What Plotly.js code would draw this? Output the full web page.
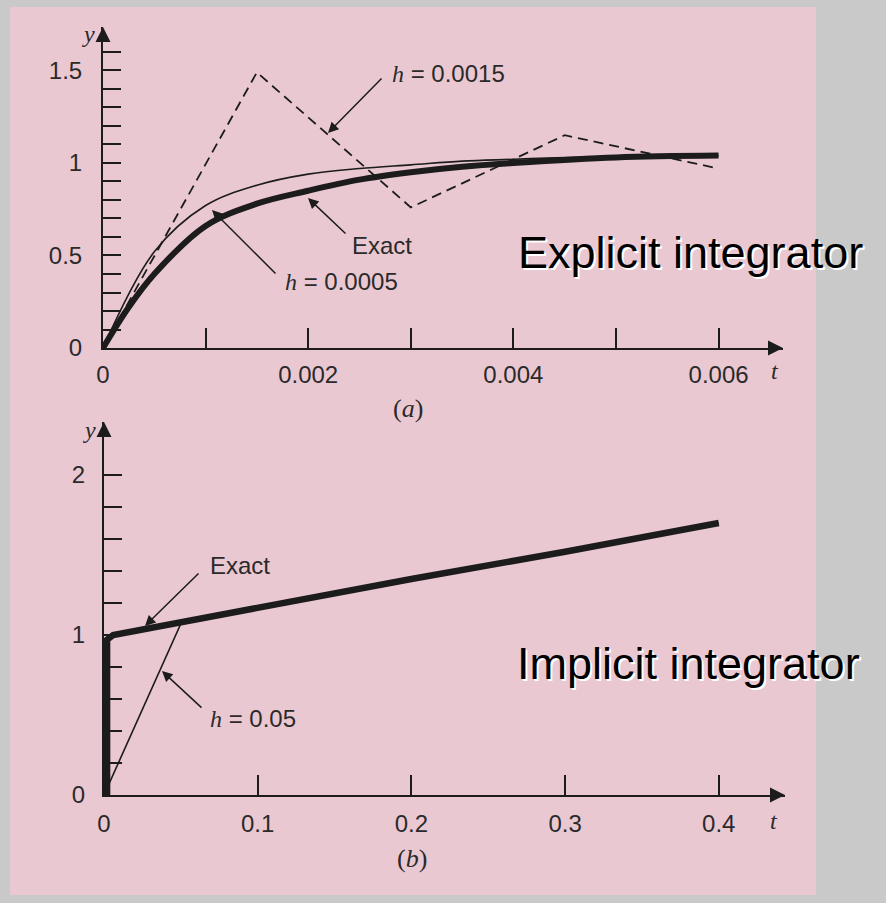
<!DOCTYPE html>
<html><head><meta charset="utf-8">
<script src="https://cdn.plot.ly/plotly-3.0.1.min.js"></script>
<style>html,body{margin:0;padding:0;background:#c9c9c9;} #chart{width:886px;height:903px;}</style>
</head><body><div id="chart"></div>
<script>
// ---- (a) Explicit integrator ----
const tExactA = [0, 0.00025, 0.0005, 0.001, 0.0015, 0.002, 0.0025, 0.003, 0.0035, 0.004, 0.005, 0.006];
const yExactA = [0, 0.22, 0.40, 0.66, 0.78, 0.85, 0.91, 0.95, 0.98, 1.00, 1.03, 1.04];
const tH0005 = [0, 0.0005, 0.001, 0.0015, 0.002, 0.0025, 0.003, 0.0035, 0.004, 0.0045, 0.005, 0.0055, 0.006];
const yH0005 = [0, 0.52, 0.77, 0.88, 0.94, 0.97, 0.99, 1.01, 1.02, 1.03, 1.035, 1.04, 1.04];
const tH0015 = [0, 0.0015, 0.003, 0.0045, 0.006];
const yH0015 = [0, 1.49, 0.76, 1.15, 0.97];
const xTickValsA = [0, 0.001, 0.002, 0.003, 0.004, 0.005, 0.006];
const xTickTextA = ['0', '', '0.002', '', '0.004', '', '0.006'];
const yTickValsA = [0, 0.1, 0.2, 0.3, 0.4, 0.5, 0.6, 0.7, 0.8, 0.9, 1.0, 1.1, 1.2, 1.3, 1.4, 1.5, 1.6];
const yTickTextA = ['0', '', '', '', '', '0.5', '', '', '', '', '1', '', '', '', '', '1.5', ''];

// ---- (b) Implicit integrator ----
const tExactB = [0.002, 0.002, 0.006, 0.05, 0.1, 0.2, 0.3, 0.4];
const yExactB = [0, 0.97, 1.0, 1.08, 1.17, 1.35, 1.52, 1.70];
const tH05 = [0, 0.05, 0.1, 0.15, 0.2, 0.25, 0.3, 0.35, 0.4];
const yH05 = [0, 1.07, 1.17, 1.26, 1.35, 1.44, 1.52, 1.61, 1.70];
const xTickValsB = [0, 0.1, 0.2, 0.3, 0.4];
const xTickTextB = ['0', '0.1', '0.2', '0.3', '0.4'];
const yTickValsB = [0, 0.2, 0.4, 0.6, 0.8, 1.0, 1.2, 1.4, 1.6, 1.8, 2.0];
const yTickTextB = ['0', '', '', '', '', '1', '', '', '', '', '2'];

const W = 886, H = 903;
const px = x => x / W;
const py = y => 1 - y / H;
const INK = '#1c1c1c';
const SANS = 'Liberation Sans, Arial, Helvetica, sans-serif';
const SERIF = 'Liberation Serif, Times New Roman, serif';

const traces = [
  {x: tH0015, y: yH0015, xaxis: 'x', yaxis: 'y', mode: 'lines', line: {color: INK, width: 1.8, dash: '10px,6px'}},
  {x: tH0005, y: yH0005, xaxis: 'x', yaxis: 'y', mode: 'lines', line: {color: INK, width: 1.6, shape: 'spline'}},
  {x: tExactA, y: yExactA, xaxis: 'x', yaxis: 'y', mode: 'lines', line: {color: INK, width: 6, shape: 'spline'}},
  {x: tH05, y: yH05, xaxis: 'x2', yaxis: 'y2', mode: 'lines', line: {color: INK, width: 1.6}},
  {x: tExactB, y: yExactB, xaxis: 'x2', yaxis: 'y2', mode: 'lines', line: {color: INK, width: 6.5}}
];

const axisCommon = {
  showline: true, linecolor: INK, linewidth: 2, showgrid: false, zeroline: false,
  ticks: 'inside', tickcolor: INK, tickwidth: 2, tickmode: 'array',
  tickfont: {family: SANS, size: 24, color: '#2a2a2a'}, fixedrange: true
};

const hItalic = '<span style="font-family:Liberation Serif, Times New Roman, serif"><i>h</i></span>';
const labelFont = {family: SANS, size: 24, color: '#2a2a2a'};

function textAnn(text, x, y, font, xanchor) {
  return {text: text, xref: 'paper', yref: 'paper', x: px(x), y: py(y), xanchor: xanchor || 'left', yanchor: 'middle', showarrow: false, font: font};
}
function arrowAnn(tipX, tipY, tailX, tailY) {
  return {text: '', xref: 'paper', yref: 'paper', x: px(tipX), y: py(tipY), ax: tailX - tipX, ay: tailY - tipY,
    showarrow: true, arrowhead: 2, arrowsize: 1.4, arrowwidth: 1.5, arrowcolor: INK};
}
function axisArrow(xref, yref, x, y, ax, ay) {
  return {text: '', xref: xref, yref: yref, x: x, y: y, ax: ax, ay: ay, showarrow: true,
    arrowhead: 2, arrowsize: 1.5, arrowwidth: 2, arrowcolor: INK};
}

const annotations = [
  // axis arrows
  axisArrow('x', 'y', 0.006628, 0, -14, 0),
  axisArrow('x', 'y', 0, 1.735, 0, 14),
  axisArrow('x2', 'y2', 0.4431, 0, -14, 0),
  axisArrow('x2', 'y2', 0, 2.331, 0, 14),
  // axis symbols
  textAnn('<i>y</i>', 88, 34, {family: SERIF, size: 24, color: '#2a2a2a'}, 'center'),
  textAnn('<i>t</i>', 775, 371, {family: SERIF, size: 24, color: '#2a2a2a'}, 'center'),
  textAnn('<i>y</i>', 89, 430, {family: SERIF, size: 24, color: '#2a2a2a'}, 'center'),
  textAnn('<i>t</i>', 774, 821, {family: SERIF, size: 24, color: '#2a2a2a'}, 'center'),
  textAnn('(<i>a</i>)', 408, 408, {family: SERIF, size: 26, color: '#2a2a2a'}, 'center'),
  textAnn('(<i>b</i>)', 412, 858, {family: SERIF, size: 26, color: '#2a2a2a'}, 'center'),
  // (a) labels
  textAnn(hItalic + ' = 0.0015', 390, 73, labelFont),
  arrowAnn(328, 133, 383, 77),
  textAnn('Exact', 350, 245, labelFont),
  arrowAnn(308, 198, 347, 235),
  textAnn(hItalic + ' = 0.0005', 283, 281, labelFont),
  arrowAnn(212, 210, 277, 275),
  // (b) labels
  textAnn('Exact', 208, 565, labelFont),
  arrowAnn(145, 626, 200, 572),
  textAnn(hItalic + ' = 0.05', 208, 718, labelFont),
  arrowAnn(162, 671, 203, 709),
  // overlay titles
  textAnn('Explicit integrator', 516, 252, {family: SANS, size: 45, color: '#000000', shadow: '2px 2px 0px #ffffff'}),
  textAnn('Implicit integrator', 515, 663, {family: SANS, size: 45, color: '#000000', shadow: '2px 2px 0px #ffffff'})
];

const layout = {
  width: W, height: H, autosize: false,
  margin: {l: 0, r: 0, t: 0, b: 0, pad: 0},
  paper_bgcolor: '#c9c9c9', plot_bgcolor: 'rgba(0,0,0,0)',
  showlegend: false,
  xaxis: Object.assign({}, axisCommon, {domain: [px(103), px(783)], range: [0, 0.006628], tickvals: xTickValsA, ticktext: xTickTextA, ticklen: 20, ticklabelstandoff: 4, anchor: 'y'}),
  yaxis: Object.assign({}, axisCommon, {domain: [py(348), py(27)], range: [0, 1.735], tickvals: yTickValsA, ticktext: yTickTextA, ticklen: 18, ticklabelstandoff: 14, anchor: 'x'}),
  xaxis2: Object.assign({}, axisCommon, {domain: [px(104), px(785)], range: [0, 0.4431], tickvals: xTickValsB, ticktext: xTickTextB, ticklen: 20, ticklabelstandoff: 6, anchor: 'y2'}),
  yaxis2: Object.assign({}, axisCommon, {domain: [py(795), py(422)], range: [0, 2.331], tickvals: yTickValsB, ticktext: yTickTextB, ticklen: 18, ticklabelstandoff: 12, anchor: 'x2'}),
  shapes: [
    {type: 'rect', xref: 'paper', yref: 'paper', x0: px(10), x1: px(816), y0: py(895), y1: py(7), fillcolor: '#eac8d2', line: {width: 0}, layer: 'below'}
  ],
  annotations: annotations
};

Plotly.newPlot('chart', traces, layout, {displayModeBar: false, staticPlot: true});
</script>
</body></html>
